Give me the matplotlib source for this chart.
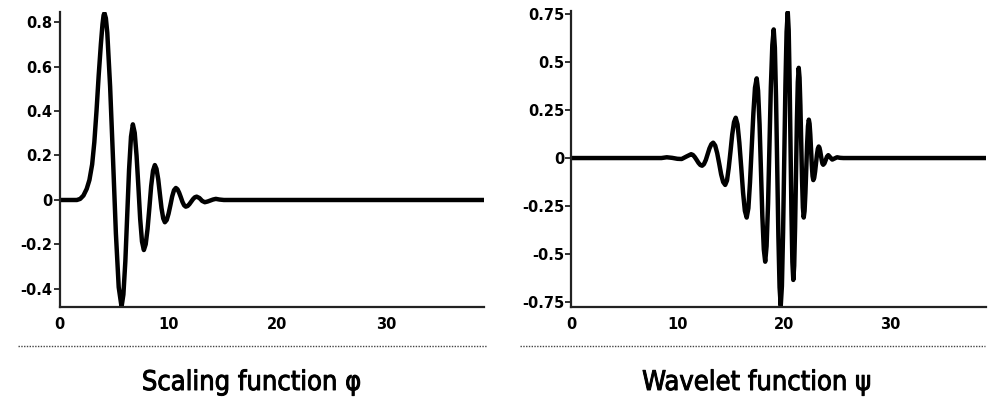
import matplotlib
matplotlib.use("Agg")
import matplotlib.pyplot as plt
from matplotlib.lines import Line2D
import matplotlib.patheffects as pe

# ---- Scaling function phi ----
phi_x = [0, 1.6, 1.9, 2.2, 2.5, 2.75, 3.0, 3.2, 3.4, 3.6, 3.8, 3.95, 4.05, 4.13,
         4.26, 4.39, 4.65, 4.92, 5.18, 5.44, 5.7,
         5.87, 6.05, 6.22, 6.39, 6.57, 6.74,
         6.91, 7.08, 7.25, 7.41, 7.58, 7.75,
         7.92, 8.09, 8.26, 8.42, 8.59, 8.76,
         8.91, 9.07, 9.22, 9.37, 9.53, 9.68,
         9.85, 10.02, 10.19, 10.35, 10.52, 10.69,
         10.84, 10.99, 11.15, 11.3, 11.45, 11.6,
         11.77, 11.93, 12.1, 12.27, 12.43, 12.6,
         12.85, 12.98, 13.1, 13.35,
         13.6, 13.85, 14.1, 14.36, 14.7, 15.1, 39]
phi_y = [0, 0, 0.005, 0.02, 0.05, 0.09, 0.16, 0.26, 0.40, 0.56, 0.70, 0.79, 0.83, 0.84,
         0.817, 0.752, 0.51, 0.18, -0.15, -0.392, -0.48,
         -0.425, -0.275, -0.07, 0.135, 0.285, 0.34,
         0.302, 0.199, 0.0575, -0.084, -0.187, -0.225,
         -0.199, -0.13, -0.034, 0.062, 0.131, 0.157,
         0.14, 0.093, 0.0285, -0.036, -0.083, -0.10,
         -0.09, -0.0615, -0.023, 0.0155, 0.044, 0.054,
         0.048, 0.033, 0.012, -0.009, -0.024, -0.03,
         -0.027, -0.019, -0.0075, 0.004, 0.012, 0.015,
         0.009, 0.0025, -0.004, -0.01,
         -0.007, -0.0025, 0.002, 0.005, 0.002, 0, 0]

# ---- Wavelet function psi ----
psi_x = [0, 8.5, 9.0, 9.5, 10.0, 10.4, 10.85, 11.29,
         11.46, 11.63, 11.81, 11.98, 12.15, 12.32,
         12.49, 12.67, 12.84, 13.01, 13.19, 13.36,
         13.55, 13.74, 13.93, 14.11, 14.30, 14.49,
         14.66, 14.82, 14.99, 15.15, 15.32, 15.48,
         15.65, 15.82, 16.0, 16.17, 16.34, 16.51,
         16.67, 16.82, 16.98, 17.14, 17.29, 17.45,
         17.58, 17.72, 17.85, 17.98, 18.12, 18.25,
         18.38, 18.52, 18.65, 18.78, 18.92, 19.05,
         19.16, 19.27, 19.38, 19.49, 19.60, 19.71,
         19.82, 19.93, 20.04, 20.15, 20.26, 20.37,
         20.457, 20.543, 20.63, 20.717, 20.803, 20.89,
         20.975, 21.06, 21.145, 21.23, 21.315, 21.4,
         21.478, 21.557, 21.635, 21.713, 21.792, 21.87,
         21.95, 22.03, 22.11, 22.19, 22.27, 22.35,
         22.42, 22.49, 22.56, 22.63, 22.70, 22.77,
         22.855, 22.94, 23.025, 23.11, 23.195, 23.28,
         23.35, 23.42, 23.49, 23.56, 23.63, 23.70,
         23.82, 23.94, 24.06, 24.18,
         24.27, 24.365, 24.46, 24.55,
         24.78, 25.0, 25.3, 25.6, 39]
psi_y = [0, 0, 0.004, 0.001, -0.004, -0.005, 0.008, 0.02,
         0.016, 0.005, -0.01, -0.025, -0.036, -0.04,
         -0.032, -0.01, 0.02, 0.05, 0.072, 0.08,
         0.065, 0.025, -0.03, -0.085, -0.125, -0.14,
         -0.117, -0.0525, 0.035, 0.1225, 0.187, 0.21,
         0.175, 0.08, -0.05, -0.18, -0.275, -0.31,
         -0.261, -0.129, 0.0525, 0.234, 0.366, 0.415,
         0.351, 0.176, -0.0625, -0.301, -0.476, -0.54,
         -0.459, -0.2375, 0.065, 0.3675, 0.589, 0.67,
         0.5735, 0.31, -0.05, -0.41, -0.6735, -0.77,
         -0.6675, -0.3875, -0.005, 0.3775, 0.6575, 0.76,
         0.6665, 0.411, 0.0625, -0.286, -0.5415, -0.635,
         -0.561, -0.359, -0.0825, 0.194, 0.396, 0.47,
         0.418, 0.275, 0.08, -0.115, -0.258, -0.31,
         -0.276, -0.1825, -0.055, 0.0725, 0.166, 0.20,
         0.179, 0.121, 0.0425, -0.036, -0.094, -0.115,
         -0.1033, -0.071, -0.0275, 0.016, 0.048, 0.06,
         0.0536, 0.036, 0.0125, -0.011, -0.029, -0.035,
         -0.0275, -0.01, 0.0075, 0.015,
         0.0095, 0.0035, -0.0025, -0.008,
         -0.002, 0.004, 0.001, 0, 0]

x_ticks = [0, 10, 20, 30]
phi_yticks = [-0.4, -0.2, 0, 0.2, 0.4, 0.6, 0.8]
phi_yticklabels = ["-0.4", "-0.2", "0", "0.2", "0.4", "0.6", "0.8"]
psi_yticks = [-0.75, -0.5, -0.25, 0, 0.25, 0.5, 0.75]
psi_yticklabels = ["-0.75", "-0.5", "-0.25", "0", "0.25", "0.5", "0.75"]
titles = ["Scaling function φ", "Wavelet function ψ"]

W, H = 990, 401
fig = plt.figure(figsize=(W / 100, H / 100), dpi=100)

def px_axes(l, r, t, b):
    return fig.add_axes([l / W, 1 - b / H, (r - l) / W, (b - t) / H])

ax1 = px_axes(59.5, 484, 12, 307)
ax2 = px_axes(571, 986, 11, 307)

tick_font = dict(family="DejaVu Sans", weight="bold", size=10.5)

for ax, xs, ys, yt, ytl, ylim in [
    (ax1, phi_x, phi_y, phi_yticks, phi_yticklabels, (-0.481, 0.845)),
    (ax2, psi_x, psi_y, psi_yticks, psi_yticklabels, (-0.776, 0.766)),
]:
    ax.plot(xs, ys, color="black", lw=3.2, solid_joinstyle="round",
            solid_capstyle="round", clip_on=True)
    ax.set_xlim(0, 39)
    ax.set_ylim(*ylim)
    ax.set_xticks(x_ticks)
    ax.set_xticklabels([str(v) for v in x_ticks], fontdict=tick_font)
    ax.set_yticks(yt)
    ax.set_yticklabels(ytl, fontdict=tick_font)
    ax.tick_params(axis="x", length=0, pad=7)
    ax.tick_params(axis="y", length=4, width=1.3, pad=1, color="#222222")
    for s in ["top", "right"]:
        ax.spines[s].set_visible(False)
    for s in ["left", "bottom"]:
        ax.spines[s].set_linewidth(1.6)
        ax.spines[s].set_color("#222222")

# dotted separator lines
for x0, x1 in [(18, 487), (520, 985)]:
    fig.add_artist(Line2D([x0 / W, x1 / W], [1 - 346 / H, 1 - 346 / H],
                          transform=fig.transFigure, color="#444444",
                          lw=1.0, linestyle=(0, (1, 1))))

for cx, t in zip([252, 757], titles):
    fig.text(cx / W, 1 - 390 / H, t, ha="center", va="baseline",
             fontsize=19.5, family="DejaVu Sans", stretch="condensed",
             color="black",
             path_effects=[pe.withStroke(linewidth=0.7, foreground="black")])

fig.savefig("out.png", dpi=100)
